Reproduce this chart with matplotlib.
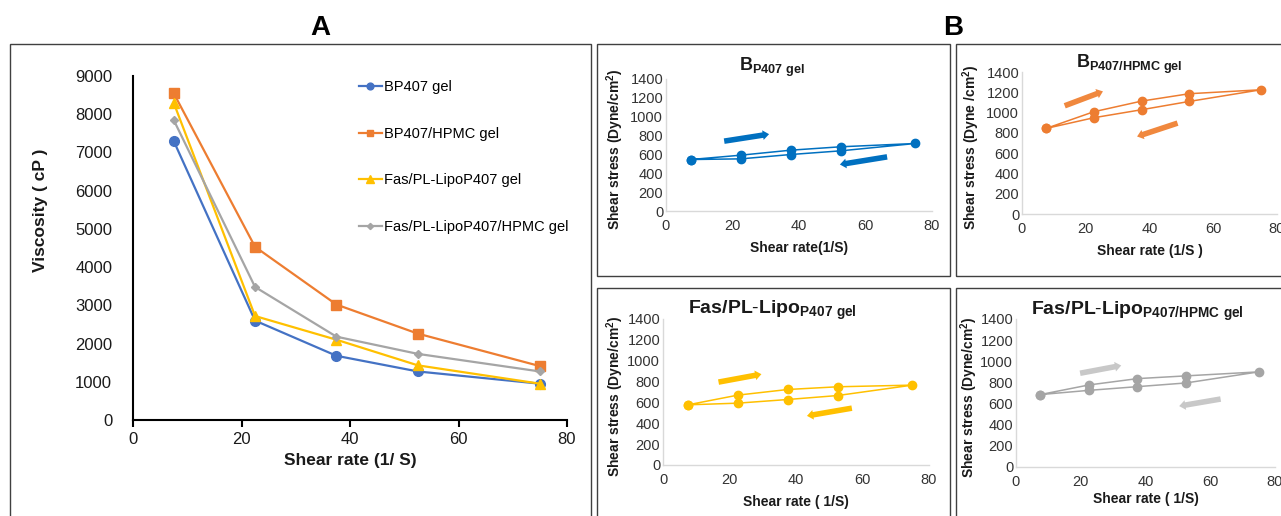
import matplotlib

matplotlib.use("Agg")
import matplotlib.pyplot as plt
from matplotlib.patches import Rectangle, FancyArrowPatch

plt.rcParams["font.family"] = ["Liberation Sans", "DejaVu Sans"]
plt.rcParams["mathtext.fontset"] = "custom"
plt.rcParams["mathtext.rm"] = "Liberation Sans"
plt.rcParams["mathtext.bf"] = "Liberation Sans:bold"
plt.rcParams["mathtext.default"] = "regular"

W, H = 1281, 516

# viscosity vs shear rate (panel A)
shear_rate = [7.5, 22.5, 37.5, 52.5, 75]
visc_bp407 = [7300, 2600, 1680, 1270, 950]
visc_bp407_hpmc = [8550, 4530, 3020, 2260, 1410]
visc_lipo_p407 = [8300, 2720, 2100, 1430, 950]
visc_lipo_p407_hpmc = [7850, 3480, 2180, 1730, 1270]

# rheograms: up curve then down curve (panel B)
loop_rate = [7.5, 22.5, 37.5, 52.5, 75, 52.5, 37.5, 22.5, 7.5]
stress_bp407 = [546, 592, 645, 681, 716, 638, 599, 553, 546]
stress_bp407_hpmc = [843, 1008, 1113, 1186, 1225, 1110, 1028, 949, 843]
stress_lipo_p407 = [577, 670, 724, 750, 766, 666, 628, 593, 577]
stress_lipo_p407_hpmc = [685, 776, 836, 862, 900, 795, 760, 725, 685]

# direction arrows (tail, tip) in data units
arrows_bp407 = [((17.5, 741), (31, 815)), ((66.5, 574), (52.3, 493))]
arrows_bp407_hpmc = [((13.4, 1067), (25.4, 1209)), ((48.8, 896), (36.1, 764))]
arrows_lipo_p407 = [((16.7, 795), (29.6, 871)), ((56.8, 545), (43.3, 471))]
arrows_lipo_p407_hpmc = [((19.8, 887), (32.5, 960)), ((63.2, 643), (50.4, 576))]

BLUE = "#4472C4"
ORANGE = "#ED7D31"
YELLOW = "#FFC000"
GRAY = "#A5A5A5"
TEXT = "#1a1a1a"


def px_axes(fig, left, top, right, bottom):
    return fig.add_axes([left / W, 1 - bottom / H, (right - left) / W, (bottom - top) / H])


def frame(fig, left, top, right, bottom):
    fig.patches.append(Rectangle((left / W, 1 - bottom / H), (right - left) / W,
                                 (bottom - top) / H, transform=fig.transFigure,
                                 fill=False, edgecolor="#404040", linewidth=1.0))


fig = plt.figure(figsize=(W / 100, H / 100), dpi=100)
fig.patch.set_facecolor("white")

frame(fig, 10, 44, 591, 520)
frame(fig, 597, 44, 950, 276)
frame(fig, 956, 44, 1290, 276)
frame(fig, 597, 288, 950, 520)
frame(fig, 956, 288, 1290, 520)

fig.text(320 / W, 1 - 28 / H, "A", fontsize=20, fontweight="bold", ha="center", va="center")
fig.text(953 / W, 1 - 28 / H, "B", fontsize=20, fontweight="bold", ha="center", va="center")

# ---- panel A ----
ax = px_axes(fig, 133, 76, 567, 420)
ax.plot(shear_rate, visc_bp407, "-o", color=BLUE, lw=1.6, ms=7, label="BP407 gel")
ax.plot(shear_rate, visc_bp407_hpmc, "-s", color=ORANGE, lw=1.6, ms=7, label="BP407/HPMC gel")
ax.plot(shear_rate, visc_lipo_p407, "-^", color=YELLOW, lw=1.6, ms=7.5, label="Fas/PL-LipoP407 gel")
ax.plot(shear_rate, visc_lipo_p407_hpmc, "-D", color=GRAY, lw=1.6, ms=4.5, label="Fas/PL-LipoP407/HPMC gel")
ax.set_xlim(0, 80)
ax.set_ylim(0, 9000)
ax.set_xticks(range(0, 81, 20))
ax.set_yticks(range(0, 9001, 1000))
for side in ("top", "right"):
    ax.spines[side].set_visible(False)
for side in ("left", "bottom"):
    ax.spines[side].set_linewidth(1.5)
    ax.spines[side].set_color("black")
ax.tick_params(axis="x", direction="out", length=5, width=1.5, pad=4, labelsize=12, labelcolor=TEXT)
ax.tick_params(axis="y", length=0, pad=15, labelsize=12, labelcolor=TEXT)
ax.set_xlabel("Shear rate (1/ S)", fontsize=12.5, fontweight="bold", color=TEXT)
ax.xaxis.set_label_coords(0.5, -0.097)
ax.set_ylabel("Viscosity ( cP )", fontsize=12.5, fontweight="bold", color=TEXT)
ax.yaxis.set_label_coords(-0.196, 0.61)
ax.legend(loc="upper left", bbox_to_anchor=(0.503, 1.01), frameon=False, fontsize=10.5,
          labelspacing=2.25, handlelength=1.6, handletextpad=0.15, borderpad=0,
          markerscale=0.7)

# ---- panel B ----
panels = [
    ((666, 79, 932, 211), loop_rate, stress_bp407, "#0070C0", "#0070C0", arrows_bp407,
     r"$\mathbf{B}_{\mathbf{P407\ gel}}$", 13, (0.40, 1.09), "Shear rate(1/S)",
     "Shear stress (Dyne/cm$^2$)", -0.15, 248),
    ((1022, 72, 1277, 214), loop_rate, stress_bp407_hpmc, ORANGE, "#F0883E", arrows_bp407_hpmc,
     r"$\mathbf{B}_{\mathbf{P407/HPMC\ gel}}$", 13, (0.42, 1.05), "Shear rate (1/S )",
     "Shear stress (Dyne /cm$^2$)", -0.155, 251),
    ((663, 319, 929, 465), loop_rate, stress_lipo_p407, YELLOW, YELLOW, arrows_lipo_p407,
     r"$\mathbf{Fas/PL}$-$\mathbf{Lipo}_{\mathbf{P407\ gel}}$", 14, (0.41, 1.06), "Shear rate ( 1/S)",
     "Shear stress (Dyne/cm$^2$)", -0.14, 502),
    ((1016, 319, 1275, 467), loop_rate, stress_lipo_p407_hpmc, GRAY, "#C8C8C8", arrows_lipo_p407_hpmc,
     r"$\mathbf{Fas/PL}$-$\mathbf{Lipo}_{\mathbf{P407/HPMC\ gel}}$", 14, (0.47, 1.05), "Shear rate ( 1/S)",
     "Shear stress (Dyne/cm$^2$)", -0.14, 499),
]

for (box, xs, ys, line_color, arrow_color, arrows, title, title_size, title_pos,
     xlabel, ylabel, ylab_x, xlab_y) in panels:
    left, top, right, bottom = box
    bx = px_axes(fig, left, top, right, bottom)
    bx.plot(xs, ys, "-o", color=line_color, lw=1.1, ms=6)
    bx.set_xlim(0, 80)
    bx.set_ylim(0, 1400)
    bx.set_xticks(range(0, 81, 20))
    bx.set_yticks(range(0, 1401, 200))
    for side in ("top", "right"):
        bx.spines[side].set_visible(False)
    for side in ("left", "bottom"):
        bx.spines[side].set_color("#D9D9D9")
        bx.spines[side].set_linewidth(1.0)
    bx.tick_params(length=0, labelsize=10.5, labelcolor="#333333")
    bx.tick_params(axis="x", pad=6)
    bx.tick_params(axis="y", pad=2)
    bx.set_xlabel(xlabel, fontsize=10, fontweight="bold", color=TEXT)
    bx.xaxis.set_label_coords(0.5, -(xlab_y - 7 - bottom) / (bottom - top))
    bx.set_ylabel(ylabel, fontsize=10, fontweight="bold", color=TEXT)
    bx.yaxis.set_label_coords(ylab_x, 0.47)
    bx.text(title_pos[0], title_pos[1], title, transform=bx.transAxes, fontsize=title_size,
            ha="center", va="center", color=TEXT)
    for tail, tip in arrows:
        bx.add_patch(FancyArrowPatch(tail, tip, arrowstyle="simple,tail_width=0.4,head_width=0.7,head_length=0.45",
                                     mutation_scale=10, color=arrow_color, lw=0,
                                     shrinkA=0, shrinkB=0, clip_on=False))

fig.savefig("out.png", dpi=100)
